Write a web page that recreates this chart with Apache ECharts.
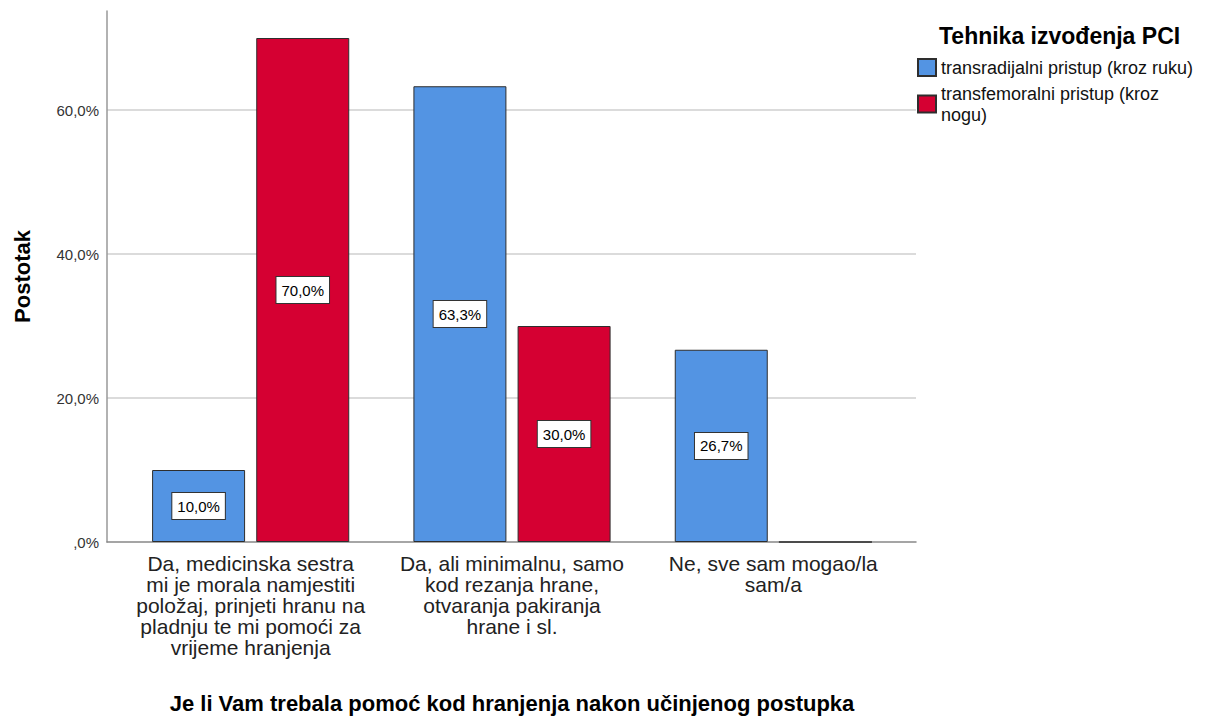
<!DOCTYPE html>
<html>
<head>
<meta charset="utf-8">
<script src="https://cdn.jsdelivr.net/npm/echarts@6/dist/echarts.min.js"></script>
<style>
  html, body { margin: 0; background: #fff; }
  #chart { width: 1208px; height: 717px; }
</style>
</head>
<body>
<div id="chart"></div>
<script>
// categories on x (SPSS wraps them by hand)
const categories = [
  'Da, medicinska sestra\nmi je morala namjestiti\npoložaj, prinjeti hranu na\npladnju te mi pomoći za\nvrijeme hranjenja',
  'Da, ali minimalnu, samo\nkod rezanja hrane,\notvaranja pakiranja\nhrane i sl.',
  'Ne, sve sam mogao/la\nsam/a'
];
const seriesNames = ['transradijalni pristup (kroz ruku)', 'transfemoralni pristup (kroz nogu)'];
const legendLabels = ['transradijalni pristup (kroz ruku)', 'transfemoralni pristup (kroz\nnogu)'];
const transradijalni = [10.0, 63.3, 26.7];
const transfemoralni = [70.0, 30.0, 0.0];
const yMax = 73.75;
const yInterval = 20;

const FONT = '"Liberation Sans", Arial, sans-serif';

function pct(v) {
  if (v === 0) return ',0%';
  return v.toFixed(1).replace('.', ',') + '%';
}

function barData(values) {
  return values.map(v => v === 0 ? { value: v, label: { show: false } } : v);
}

function makeSeries(name, values, color) {
  return {
    name: name,
    type: 'bar',
    xAxisIndex: 1,
    yAxisIndex: 1,
    barWidth: 93,
    barGap: '12%',
    data: barData(values),
    itemStyle: { color: color, borderColor: '#2e2e2e', borderWidth: 1 },
    label: {
      show: true,
      position: 'inside',
      formatter: p => pct(p.value),
      fontFamily: FONT,
      fontSize: 15,
      color: '#000',
      backgroundColor: '#fff',
      borderColor: '#333',
      borderWidth: 1,
      padding: [6, 5, 5, 5]
    }
  };
}

const chart = echarts.init(document.getElementById('chart'), null, { renderer: 'svg' });

chart.setOption({
  animation: false,
  backgroundColor: '#fff',
  textStyle: { fontFamily: FONT },
  title: {
    text: 'Tehnika izvođenja PCI',
    left: 939,
    top: 24,
    padding: 0,
    textStyle: { fontFamily: FONT, fontSize: 23, fontWeight: 'bold', color: '#000' }
  },
  legend: {
    orient: 'vertical',
    left: 917,
    top: 57,
    padding: 0,
    itemGap: 5,
    itemWidth: 18,
    itemHeight: 17,
    icon: 'rect',
    data: seriesNames,
    formatter: name => legendLabels[seriesNames.indexOf(name)],
    textStyle: { fontFamily: FONT, fontSize: 18, lineHeight: 21, color: '#111' }
  },
  grid: [
    { left: 107, right: 292, top: 11, bottom: 175, outerBoundsMode: 'none' },
    { left: 120, right: 304, top: 11, bottom: 175, outerBoundsMode: 'none' }
  ],
  xAxis: [
    {
      gridIndex: 0,
      type: 'value',
      min: 0,
      max: 1,
      axisLine: { show: true, lineStyle: { color: '#888', width: 1.5 } },
      axisTick: { show: false },
      axisLabel: { show: false },
      splitLine: { show: false }
    },
    {
      gridIndex: 1,
      type: 'category',
      data: categories,
      axisLine: { show: false },
      axisTick: { show: false },
      axisLabel: {
        interval: 0,
        margin: 11,
        fontFamily: FONT,
        fontSize: 21,
        lineHeight: 21,
        color: '#222'
      },
      name: 'Je li Vam trebala pomoć kod hranjenja nakon učinjenog postupka',
      nameLocation: 'middle',
      nameGap: 150,
      nameTextStyle: { fontFamily: FONT, fontSize: 22, fontWeight: 'bold', color: '#000' }
    }
  ],
  yAxis: [
    {
      gridIndex: 0,
      type: 'value',
      min: 0,
      max: yMax,
      interval: yInterval,
      axisLine: { show: true, lineStyle: { color: '#999', width: 1.5 } },
      axisTick: { show: false },
      axisLabel: {
        formatter: pct,
        margin: 8,
        fontFamily: FONT,
        fontSize: 15,
        color: '#333',
        showMaxLabel: false
      },
      splitLine: {
        show: true,
        showMinLine: false,
        showMaxLine: false,
        lineStyle: { color: '#cfcfcf', width: 1.5 }
      },
      name: 'Postotak',
      nameLocation: 'middle',
      nameGap: 74,
      nameTextStyle: { fontFamily: FONT, fontSize: 22, fontWeight: 'bold', color: '#000' }
    },
    {
      gridIndex: 1,
      type: 'value',
      min: 0,
      max: yMax,
      show: false
    }
  ],
  series: [
    makeSeries(seriesNames[0], transradijalni, '#5394e3'),
    makeSeries(seriesNames[1], transfemoralni, '#d50032')
  ]
});
</script>
</body>
</html>
